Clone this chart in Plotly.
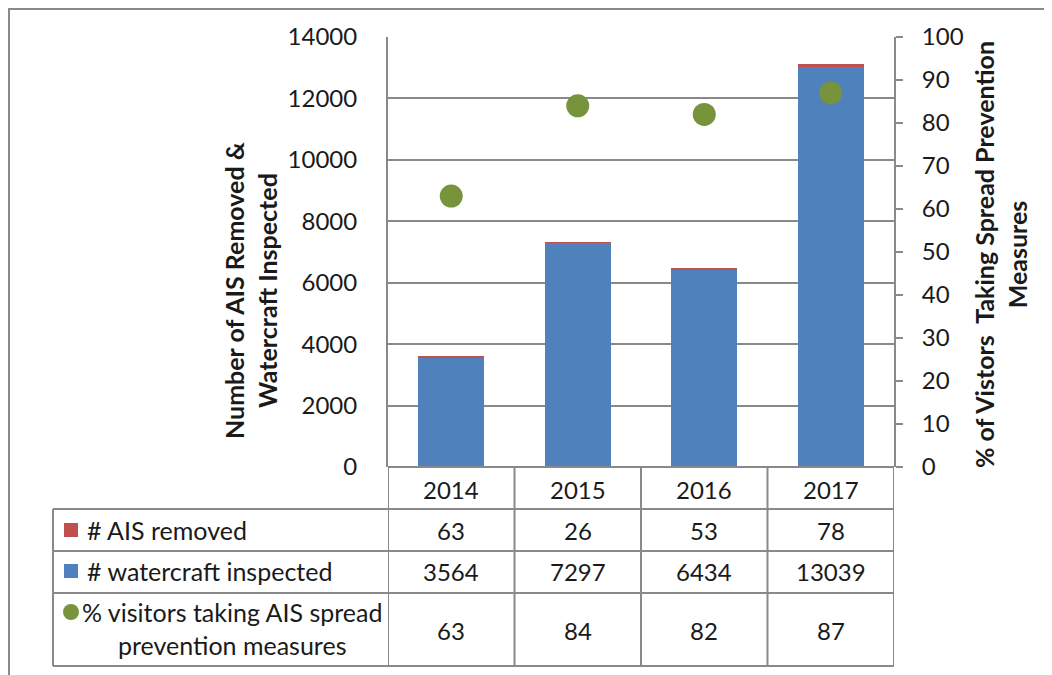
import plotly.graph_objects as go

years = ["2014", "2015", "2016", "2017"]
ais_removed = [63, 26, 53, 78]
watercraft = [3564, 7297, 6434, 13039]
pct_visitors = [63, 84, 82, 87]

row_labels = ["# AIS removed", "# watercraft inspected",
              "% visitors taking AIS spread<br>prevention measures"]

BLUE = "#4F81BD"
RED = "#C0504D"
GREEN = "#77933C"
GRID = "#898989"
TXT = "#1a1a1a"
FONT = "Lato"

# page body adds an 8px offset; target coordinates are in window pixels
OFF = 8
W, H = 1052 - OFF, 675 - OFF
L, R, T, B = 388, 894, 37, 467

xs = list(range(len(years)))


def px(xp):
    return (xp - L) / (R - L)


def py(yp):
    return (B - yp) / (B - T)


fig = go.Figure()
fig.add_trace(go.Bar(x=xs, y=watercraft, marker=dict(color=BLUE, line=dict(width=0)),
                     name="# watercraft inspected", width=0.52))
fig.add_trace(go.Bar(x=xs, y=ais_removed, marker=dict(color=RED, line=dict(width=0)),
                     name="# AIS removed", width=0.52))
fig.add_trace(go.Scatter(x=xs, y=pct_visitors, yaxis="y2", mode="markers",
                         marker=dict(color=GREEN, size=23),
                         name="% visitors taking AIS spread prevention measures"))

shapes = []
line = dict(color=GRID, width=2)
# outer chart border
shapes.append(dict(type="rect", xref="paper", yref="paper", x0=px(9), x1=px(1080),
                   y0=py(9), y1=py(720), line=line, layer="below"))
# table horizontal lines
shapes.append(dict(type="line", xref="paper", yref="paper", x0=px(L), x1=px(R),
                   y0=py(467), y1=py(467), line=line))
for yy in [509, 551, 593, 666]:
    shapes.append(dict(type="line", xref="paper", yref="paper", x0=px(53), x1=px(R),
                       y0=py(yy), y1=py(yy), line=line))
# table vertical lines
shapes.append(dict(type="line", xref="paper", yref="paper", x0=px(53), x1=px(53),
                   y0=py(509), y1=py(666), line=line))
for i in range(len(years) + 1):
    shapes.append(dict(type="line", xref="x", yref="paper", x0=i - 0.5, x1=i - 0.5,
                       y0=py(467), y1=py(666), line=line))
# legend keys
shapes.append(dict(type="rect", xref="paper", yref="paper", x0=px(64), x1=px(78),
                   y0=py(523), y1=py(537), fillcolor=RED, line=dict(width=0)))
shapes.append(dict(type="rect", xref="paper", yref="paper", x0=px(64), x1=px(78),
                   y0=py(564), y1=py(578), fillcolor=BLUE, line=dict(width=0)))
shapes.append(dict(type="circle", xref="paper", yref="paper", x0=px(63), x1=px(79),
                   y0=py(604), y1=py(620), fillcolor=GREEN, line=dict(width=0)))

ann = []
tf = dict(family=FONT, size=24, color=TXT)
row_y = [530, 571, 630]
for i, yr in enumerate(years):
    ann.append(dict(x=xs[i], y=py(489), xref="x", yref="paper", text=yr, showarrow=False,
                    font=tf, xanchor="center", yanchor="middle"))
    for vals, ry in zip([ais_removed, watercraft, pct_visitors], row_y):
        ann.append(dict(x=xs[i], y=py(ry), xref="x", yref="paper", text=str(vals[i]),
                        showarrow=False, font=tf, xanchor="center", yanchor="middle"))
lf = dict(family=FONT, size=25, color=TXT)
ann.append(dict(x=px(85), y=py(530), xref="paper", yref="paper", text=row_labels[0],
                showarrow=False, font=lf, xanchor="left", yanchor="middle"))
ann.append(dict(x=px(85), y=py(571), xref="paper", yref="paper", text=row_labels[1],
                showarrow=False, font=lf, xanchor="left", yanchor="middle"))
ann.append(dict(x=px(232), y=py(628), xref="paper", yref="paper", text=row_labels[2],
                showarrow=False, font=lf, xanchor="center", yanchor="middle", align="center"))
# axis titles
ttf = dict(family=FONT, size=25, color=TXT, weight="bold")
ann.append(dict(x=px(250), y=py(290), xref="paper", yref="paper",
                text="Number of AIS Removed &<br>Watercraft Inspected", textangle=-90,
                showarrow=False, font=ttf, xanchor="center", yanchor="middle", align="center"))
ann.append(dict(x=px(1001), y=py(255), xref="paper", yref="paper",
                text="% of Vistors  Taking Spread Prevention<br>Measures", textangle=-90,
                showarrow=False, font=ttf, xanchor="center", yanchor="middle", align="center"))

fig.update_layout(
    width=W, height=H,
    margin=dict(l=L - OFF, r=W - (R - OFF), t=T - OFF, b=H - (B - OFF), pad=0),
    paper_bgcolor="white", plot_bgcolor="white",
    barmode="stack", showlegend=False,
    font=dict(family=FONT, size=24, color=TXT),
    xaxis=dict(range=[-0.5, len(years) - 0.5], showticklabels=False, showgrid=False,
               ticks="", showline=False, zeroline=False),
    yaxis=dict(range=[0, 14000], dtick=2000, tickformat="d", showgrid=True, gridcolor=GRID,
               gridwidth=2, showline=True, linecolor=GRID, linewidth=2, ticks="",
               zeroline=False, ticklabelstandoff=24, tickfont=tf),
    yaxis2=dict(range=[0, 100], dtick=10, overlaying="y", side="right", showgrid=False,
                showline=True, linecolor=GRID, linewidth=2, ticks="outside", ticklen=7,
                tickcolor=GRID, tickwidth=2, zeroline=False, ticklabelstandoff=14, tickfont=tf),
    shapes=shapes, annotations=ann,
)

fig.write_html("out.html")
